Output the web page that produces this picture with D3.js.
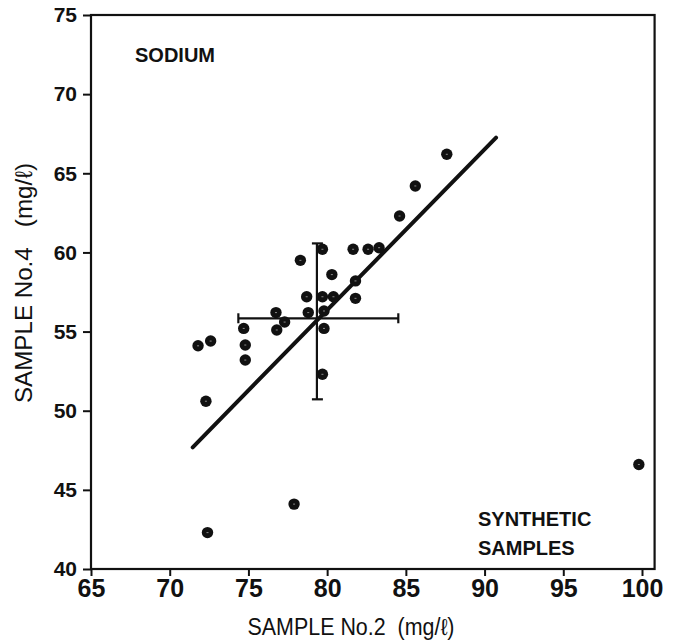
<!DOCTYPE html>
<html>
<head>
<meta charset="utf-8">
<script src="https://cdn.jsdelivr.net/npm/d3@7"></script>
<style>
  html, body { margin: 0; padding: 0; background: #fff; }
  svg { display: block; }
</style>
</head>
<body>
<svg id="chart" width="673" height="642"></svg>
<script>
// ---- data ----
const sampleNo2 = [87.6, 85.6, 84.6, 79.7, 81.65, 82.6, 83.3, 78.3, 80.3, 81.8,
                   78.7, 79.7, 80.4, 81.8, 76.75, 78.8, 79.8, 77.3, 74.7, 76.8,
                   79.8, 71.8, 72.6, 74.8, 74.8, 79.7, 72.3, 77.9, 72.4, 99.8];
const sampleNo4 = [66.2, 64.2, 62.3, 60.2, 60.2, 60.2, 60.3, 59.5, 58.6, 58.2,
                   57.2, 57.2, 57.2, 57.1, 56.2, 56.2, 56.3, 55.6, 55.2, 55.1,
                   55.2, 54.1, 54.4, 54.15, 53.2, 52.3, 50.6, 44.1, 42.3, 46.6];
const fitX = [71.46, 90.73];
const fitY = [47.69, 67.25];
const crossX = [74.36, 84.52];   // horizontal bar ends (Sample No.2)
const crossY = [50.72, 60.57];   // vertical bar ends (Sample No.4)
const crossCenter = [79.35, 55.84];
const xTicks = [65, 70, 75, 80, 85, 90, 95, 100];
const yTicks = [40, 45, 50, 55, 60, 65, 70, 75];
const xDomain = [65, 100];
const yDomain = [40, 75];
const frameRight = 100.8;

// ---- drawing ----
const svg = d3.select("#chart");
const x = d3.scaleLinear().domain(xDomain).range([91, 642]);
const y = d3.scaleLinear().domain(yDomain).range([569, 15]);
const ink = "#111";

// frame
svg.append("rect")
  .attr("x", x(65)).attr("y", y(75))
  .attr("width", x(frameRight) - x(65)).attr("height", y(40) - y(75))
  .attr("fill", "none").attr("stroke", ink).attr("stroke-width", 2.2);

// axes
const yAxis = d3.axisLeft(y).tickValues(yTicks).tickSize(8).tickPadding(6).tickFormat(d3.format("d"));
const gy = svg.append("g").attr("transform", `translate(${x(65)},0)`).call(yAxis);
gy.select(".domain").remove();
gy.selectAll(".tick line").attr("stroke", ink).attr("stroke-width", 2);
gy.selectAll(".tick text")
  .attr("fill", ink)
  .style("font-family", "'Liberation Sans', Arial, sans-serif")
  .style("font-weight", "bold").style("font-size", "21px");

const xAxis = d3.axisBottom(x).tickValues(xTicks).tickSize(7).tickPadding(3).tickFormat(d3.format("d"));
const gx = svg.append("g").attr("transform", `translate(0,${y(40)})`).call(xAxis);
gx.select(".domain").remove();
gx.selectAll(".tick line").attr("stroke", ink).attr("stroke-width", 2);
gx.selectAll(".tick text")
  .attr("fill", ink)
  .style("font-family", "'Liberation Sans Narrow', 'Liberation Sans', Arial, sans-serif")
  .style("font-weight", "bold").style("font-size", "25px");

// axis titles
svg.append("text")
  .attr("x", 351).attr("y", 635)
  .attr("text-anchor", "middle")
  .attr("fill", ink)
  .style("font-family", "'Liberation Sans', Arial, sans-serif")
  .style("font-size", "23px")
  .attr("textLength", 207).attr("lengthAdjust", "spacingAndGlyphs")
  .text("SAMPLE No.2\u00a0 (mg/\u2113)");

svg.append("text")
  .attr("transform", "translate(32,283) rotate(-90)")
  .attr("text-anchor", "middle")
  .attr("fill", ink)
  .style("font-family", "'Liberation Sans', Arial, sans-serif")
  .style("font-size", "24px")
  .attr("textLength", 240).attr("lengthAdjust", "spacingAndGlyphs")
  .text("SAMPLE No.4\u00a0\u00a0 (mg/\u2113)");

// annotations
const annoFont = "'Liberation Sans', Arial, sans-serif";
svg.append("text").attr("x", 135).attr("y", 62).attr("fill", ink)
  .style("font-family", annoFont).style("font-weight", "bold").style("font-size", "20px")
  .text("SODIUM");
svg.append("text").attr("x", 478).attr("y", 526).attr("fill", ink)
  .style("font-family", annoFont).style("font-weight", "bold").style("font-size", "20px")
  .text("SYNTHETIC");
svg.append("text").attr("x", 478).attr("y", 555).attr("fill", ink)
  .style("font-family", annoFont).style("font-weight", "bold").style("font-size", "20px")
  .text("SAMPLES");

// regression line
svg.append("line")
  .attr("x1", x(fitX[0])).attr("y1", y(fitY[0]))
  .attr("x2", x(fitX[1])).attr("y2", y(fitY[1]))
  .attr("stroke", ink).attr("stroke-width", 4).attr("stroke-linecap", "round");

// error cross
const eb = svg.append("g").attr("stroke", ink).attr("stroke-width", 2.2).attr("fill", "none");
eb.append("line")
  .attr("x1", x(crossX[0])).attr("x2", x(crossX[1]))
  .attr("y1", y(crossCenter[1])).attr("y2", y(crossCenter[1]));
crossX.forEach(v => eb.append("line")
  .attr("x1", x(v)).attr("x2", x(v))
  .attr("y1", y(crossCenter[1]) - 5).attr("y2", y(crossCenter[1]) + 5));
eb.append("line")
  .attr("x1", x(crossCenter[0])).attr("x2", x(crossCenter[0]))
  .attr("y1", y(crossY[0])).attr("y2", y(crossY[1]));
crossY.forEach(v => eb.append("line")
  .attr("x1", x(crossCenter[0]) - 5).attr("x2", x(crossCenter[0]) + 6)
  .attr("y1", y(v)).attr("y2", y(v)));

// points
const pts = sampleNo2.map((d, i) => [d, sampleNo4[i]]);
svg.append("g").selectAll("circle").data(pts).join("circle")
  .attr("cx", d => x(d[0])).attr("cy", d => y(d[1]))
  .attr("r", 5.7).attr("fill", ink);
svg.append("g").selectAll("rect").data(pts).join("rect")
  .attr("x", d => x(d[0]) - 1).attr("y", d => y(d[1]) - 0.5)
  .attr("width", 2).attr("height", 1).attr("fill", "#888");
</script>
</body>
</html>
